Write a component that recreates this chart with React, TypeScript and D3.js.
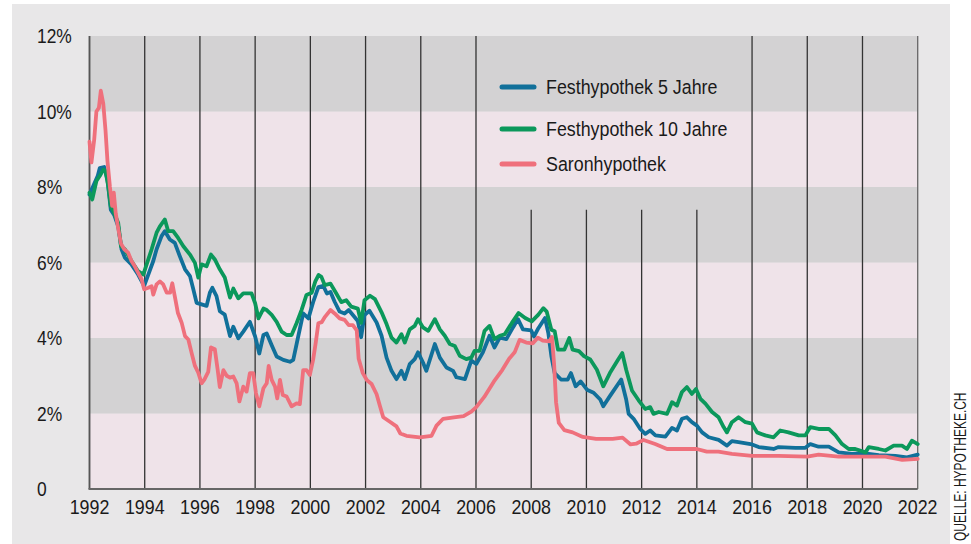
import * as d3 from 'd3';
import React from 'react';

// values (year, percent)
const festhypothek5: [number, number][] = [
  [1992.0, 7.8], [1992.3, 8.3], [1992.37, 8.5], [1992.53, 8.53], [1992.65, 8.2], [1992.77, 7.4], [1992.9, 7.25],
  [1993.04, 6.96], [1993.16, 6.35], [1993.28, 6.13], [1993.52, 5.95], [1993.76, 5.68], [1993.98, 5.38],
  [1994.13, 5.68], [1994.31, 6.04], [1994.43, 6.35], [1994.61, 6.7], [1994.73, 6.83], [1994.91, 6.61],
  [1995.09, 6.52], [1995.27, 6.17], [1995.46, 5.82], [1995.64, 5.64], [1995.76, 5.29], [1995.88, 4.93],
  [1996.06, 4.89], [1996.24, 4.85], [1996.36, 5.2], [1996.45, 5.33], [1996.6, 5.11], [1996.72, 4.71], [1996.9, 4.62],
  [1997.09, 4.05], [1997.21, 4.3], [1997.39, 3.99], [1997.57, 4.17], [1997.81, 4.43],
  [1998.0, 4.04], [1998.15, 3.59], [1998.3, 4.08], [1998.42, 4.12], [1998.6, 3.81], [1998.78, 3.51],
  [1999.02, 3.42], [1999.26, 3.37], [1999.38, 3.42], [1999.56, 4.04], [1999.74, 4.65], [1999.93, 4.52],
  [2000.1, 4.95], [2000.29, 5.35], [2000.47, 5.38], [2000.6, 5.18], [2000.73, 5.22], [2000.88, 4.96],
  [2001.06, 4.7], [2001.24, 4.65], [2001.39, 4.74], [2001.54, 4.61], [2001.72, 4.45], [2001.84, 4.02], [2001.96, 4.61],
  [2002.14, 4.72], [2002.4, 4.41], [2002.58, 4.06], [2002.76, 3.48], [2002.94, 3.13],
  [2003.12, 2.91], [2003.3, 3.13], [2003.42, 2.91], [2003.6, 3.31], [2003.78, 3.44], [2003.9, 3.62],
  [2004.08, 3.35], [2004.2, 3.13], [2004.51, 3.84], [2004.69, 3.48], [2004.93, 3.22],
  [2005.17, 3.13], [2005.29, 2.96], [2005.6, 2.91], [2005.83, 3.4],
  [2006.01, 3.31], [2006.25, 3.62], [2006.49, 4.06], [2006.67, 3.75], [2006.86, 4.01],
  [2007.1, 3.97], [2007.34, 4.28], [2007.52, 4.5], [2007.7, 4.23],
  [2008.0, 4.2], [2008.1, 4.04], [2008.26, 4.26], [2008.5, 4.53], [2008.62, 4.13], [2008.73, 3.52], [2008.85, 3.07],
  [2009.08, 2.9], [2009.32, 2.9], [2009.44, 3.07], [2009.61, 2.72], [2009.79, 2.85],
  [2010.02, 2.63], [2010.26, 2.55], [2010.5, 2.37], [2010.61, 2.19], [2010.85, 2.46],
  [2011.26, 2.9], [2011.44, 2.37], [2011.53, 1.99], [2011.71, 1.86], [2011.95, 1.59],
  [2012.13, 1.46], [2012.31, 1.55], [2012.5, 1.42], [2012.86, 1.39],
  [2013.1, 1.62], [2013.28, 1.55], [2013.46, 1.86], [2013.64, 1.9], [2013.82, 1.77],
  [2014.0, 1.68], [2014.19, 1.5], [2014.43, 1.37], [2014.79, 1.3],
  [2015.09, 1.15], [2015.27, 1.27], [2015.51, 1.24],
  [2016.0, 1.18], [2016.24, 1.11], [2016.78, 1.06], [2016.96, 1.11],
  [2017.57, 1.09], [2017.93, 1.09], [2018.11, 1.19], [2018.41, 1.12], [2018.78, 1.12],
  [2019.14, 0.97], [2019.62, 0.93], [2020.0, 0.95], [2020.59, 0.9],
  [2021.19, 0.88], [2021.61, 0.84], [2022.0, 0.91],
];

const festhypothek10: [number, number][] = [
  [1992.0, 7.85], [1992.1, 7.67], [1992.25, 8.16], [1992.37, 8.29], [1992.5, 8.46], [1992.58, 8.42], [1992.68, 8.02],
  [1992.77, 7.49], [1992.9, 7.3], [1993.04, 7.05], [1993.14, 6.43], [1993.28, 6.35], [1993.52, 6.04], [1993.76, 5.77],
  [1993.95, 5.68], [1994.07, 5.95], [1994.25, 6.35], [1994.43, 6.79], [1994.55, 6.96], [1994.73, 7.14], [1994.85, 6.83],
  [1995.03, 6.83], [1995.21, 6.65], [1995.4, 6.43], [1995.64, 6.21], [1995.82, 5.99], [1995.94, 5.6],
  [1996.06, 5.95], [1996.24, 5.9], [1996.4, 6.21], [1996.54, 6.08], [1996.72, 5.82], [1996.9, 5.6],
  [1997.09, 5.07], [1997.21, 5.31], [1997.39, 5.05], [1997.57, 5.18], [1997.87, 5.18],
  [1998.0, 4.92], [1998.12, 4.52], [1998.3, 4.78], [1998.42, 4.74], [1998.6, 4.61], [1998.78, 4.43], [1998.96, 4.17],
  [1999.14, 4.08], [1999.32, 4.08], [1999.5, 4.39], [1999.68, 4.74], [1999.86, 5.14],
  [2000.05, 5.2], [2000.18, 5.5], [2000.3, 5.67], [2000.4, 5.62], [2000.52, 5.4], [2000.73, 5.44], [2000.94, 5.18],
  [2001.12, 4.95], [2001.3, 5.0], [2001.48, 4.83], [2001.72, 4.78], [2001.84, 4.4], [2001.96, 5.0],
  [2002.16, 5.12], [2002.34, 5.03], [2002.58, 4.68], [2002.76, 4.37], [2002.94, 4.01],
  [2003.12, 3.88], [2003.3, 4.1], [2003.42, 3.88], [2003.6, 4.23], [2003.78, 4.32], [2003.9, 4.5],
  [2004.08, 4.28], [2004.27, 4.19], [2004.51, 4.5], [2004.69, 4.23], [2004.87, 4.06],
  [2005.05, 3.84], [2005.23, 3.79], [2005.41, 3.53], [2005.65, 3.44], [2005.83, 3.48], [2005.95, 3.66],
  [2006.13, 3.66], [2006.31, 4.19], [2006.49, 4.32], [2006.67, 3.97], [2006.86, 4.06],
  [2007.04, 4.1], [2007.3, 4.4], [2007.54, 4.66], [2007.78, 4.53],
  [2008.02, 4.44], [2008.26, 4.62], [2008.44, 4.79], [2008.56, 4.7], [2008.73, 4.22], [2008.85, 4.18], [2008.97, 3.69],
  [2009.2, 3.69], [2009.38, 4.0], [2009.5, 3.69], [2009.73, 3.65], [2009.91, 3.52],
  [2010.14, 3.43], [2010.38, 3.16], [2010.61, 2.72], [2010.85, 3.07],
  [2011.15, 3.43], [2011.3, 3.6], [2011.44, 3.16], [2011.65, 2.61], [2011.89, 2.35],
  [2012.13, 2.12], [2012.31, 2.17], [2012.43, 1.99], [2012.62, 2.04], [2012.92, 1.99],
  [2013.1, 2.3], [2013.28, 2.21], [2013.46, 2.57], [2013.64, 2.7], [2013.82, 2.52], [2013.97, 2.65],
  [2014.13, 2.39], [2014.31, 2.26], [2014.55, 2.04], [2014.79, 1.9], [2014.97, 1.64],
  [2015.09, 1.5], [2015.27, 1.77], [2015.51, 1.9], [2015.76, 1.77],
  [2016.0, 1.73], [2016.18, 1.5], [2016.48, 1.42], [2016.78, 1.37],
  [2017.02, 1.55], [2017.32, 1.5], [2017.69, 1.42], [2017.93, 1.42],
  [2018.11, 1.64], [2018.41, 1.59], [2018.78, 1.59], [2019.02, 1.42], [2019.26, 1.19], [2019.5, 1.06], [2019.74, 1.06],
  [2020.11, 0.97], [2020.23, 1.11], [2020.59, 1.06], [2020.83, 1.02],
  [2021.13, 1.15], [2021.43, 1.15], [2021.61, 1.06], [2021.79, 1.28], [2022.0, 1.19],
];

const saron: [number, number][] = [
  [1992.0, 9.2], [1992.07, 8.65], [1992.17, 9.25], [1992.25, 10.0], [1992.34, 10.1], [1992.41, 10.55], [1992.5, 10.2],
  [1992.58, 9.5], [1992.65, 8.7], [1992.74, 8.0], [1992.82, 7.5], [1992.88, 7.85], [1992.95, 7.3],
  [1993.04, 6.9], [1993.14, 6.5], [1993.26, 6.35], [1993.4, 6.26], [1993.52, 6.04], [1993.64, 5.9], [1993.76, 5.73],
  [1993.89, 5.55], [1993.98, 5.29], [1994.13, 5.33], [1994.25, 5.37], [1994.31, 5.15], [1994.43, 5.42], [1994.55, 5.5],
  [1994.67, 5.42], [1994.8, 5.2], [1994.92, 5.2], [1995.0, 5.45], [1995.09, 5.1], [1995.2, 4.67], [1995.34, 4.4],
  [1995.46, 4.05], [1995.58, 3.96], [1995.7, 3.6], [1995.82, 3.26], [1995.94, 3.08],
  [1996.06, 2.8], [1996.16, 2.9], [1996.3, 3.1], [1996.4, 3.75], [1996.54, 3.7], [1996.64, 3.17], [1996.72, 2.7],
  [1996.85, 3.15], [1996.97, 3.0], [1997.09, 2.95], [1997.21, 2.98], [1997.33, 2.8], [1997.43, 2.32], [1997.57, 2.71],
  [1997.69, 2.58], [1997.81, 3.07], [1997.93, 3.07], [1998.03, 2.54], [1998.15, 2.19], [1998.3, 2.67], [1998.42, 2.8],
  [1998.49, 3.26], [1998.6, 2.89], [1998.72, 2.71], [1998.8, 2.4], [1998.9, 2.89], [1999.0, 2.49], [1999.14, 2.45],
  [1999.32, 2.19], [1999.5, 2.27], [1999.62, 2.25], [1999.74, 3.15], [1999.86, 3.15], [1999.98, 3.02],
  [2000.1, 3.42], [2000.2, 3.9], [2000.29, 4.39], [2000.41, 4.42], [2000.53, 4.56], [2000.73, 4.74], [2000.88, 4.65],
  [2001.06, 4.52], [2001.24, 4.48], [2001.39, 4.34], [2001.54, 4.34], [2001.68, 4.2], [2001.75, 3.45], [2001.9, 3.07],
  [2002.05, 2.88], [2002.22, 2.78], [2002.4, 2.51], [2002.52, 2.2], [2002.64, 1.9], [2002.88, 1.78],
  [2003.12, 1.66], [2003.26, 1.47], [2003.48, 1.41], [2003.96, 1.37], [2004.39, 1.41], [2004.57, 1.68], [2004.81, 1.86],
  [2005.2, 1.9], [2005.55, 1.93], [2005.83, 2.05], [2006.01, 2.17], [2006.3, 2.44], [2006.65, 2.85], [2006.95, 3.15],
  [2007.2, 3.45], [2007.4, 3.62], [2007.58, 3.95], [2007.82, 3.88], [2008.06, 3.86], [2008.24, 4.01], [2008.42, 3.93],
  [2008.66, 3.91], [2008.75, 4.03], [2008.83, 3.3], [2008.9, 2.3], [2009.0, 1.75], [2009.2, 1.56], [2009.5, 1.5],
  [2009.87, 1.38], [2010.35, 1.33], [2010.95, 1.33], [2011.31, 1.36], [2011.6, 1.18], [2011.8, 1.2], [2012.07, 1.3],
  [2012.49, 1.19], [2012.92, 1.06], [2014.0, 1.06], [2014.36, 0.99], [2014.78, 0.99], [2015.27, 0.93], [2016.0, 0.88],
  [2016.96, 0.88], [2018.0, 0.86], [2018.41, 0.91], [2019.13, 0.86], [2020.0, 0.86], [2020.83, 0.86], [2021.44, 0.77],
  [2022.0, 0.8],
];

const seriesNames = ['Festhypothek 5 Jahre', 'Festhypothek 10 Jahre', 'Saronhypothek'];
const seriesColors = ['#11709a', '#0b985b', '#ef707c'];
const xTicks = d3.range(1992, 2023, 2);
const yTicks = [0, 2, 4, 6, 8, 10, 12];
const yTickLabels = ['0', '2%', '4%', '6%', '8%', '10%', '12%'];
const legendYears = [2008, 2010, 2012, 2014]; // grid lines stop below legend
const source = 'QUELLE: HYPOTHEKE.CH';

const font = "'Liberation Sans', Arial, sans-serif";
const narrow = 0.87; // no condensed font installed, squeeze Liberation Sans

const App = () => {
  const width = 971, height = 544;
  const x = d3.scaleLinear().domain([1992, 2022]).range([89.5, 917.7]);
  const y = d3.scaleLinear().domain([0, 12]).range([489, 36]);
  const line = d3.line<[number, number]>().x(d => x(d[0])).y(d => y(d[1]));
  const data = [festhypothek5, festhypothek10, saron];

  return (
    <svg width={width} height={height} style={{ position: 'absolute', left: 0, top: 0, display: 'block' }}
      fontFamily={font}>
      <rect x={0} y={0} width={width} height={height} fill="#fff" />
      <rect x={12} y={4} width={938} height={height} fill="#e8e7e8" />
      {/* bands */}
      {yTicks.slice(0, -1).map((t, i) => (
        <rect key={t} x={x(1992)} y={y(t + 2)} width={x(2022) - x(1992)} height={y(t) - y(t + 2)}
          fill={i % 2 === 0 ? '#efe3e9' : '#d3d2d3'} />
      ))}
      {/* vertical grid */}
      {xTicks.map(t => (
        <line key={t} x1={x(t)} x2={x(t)} y1={y(0)} y2={legendYears.includes(t) ? y(7.4) : y(12)}
          stroke={t === 2022 ? '#666' : '#333'} strokeWidth={1.3} />
      ))}
      {/* axes */}
      <line x1={x(1992)} x2={x(1992)} y1={y(0)} y2={y(12)} stroke="#555" strokeWidth={1.6} />
      <line x1={x(1992) - 1} x2={x(2022)} y1={y(0)} y2={y(0)} stroke="#666" strokeWidth={2} />
      {yTicks.map((t, i) => (
        <text key={t} transform={`translate(37,${y(t)}) scale(${narrow},1)`} dy="0.36em" fontSize={20}
          fill="#1a1a1a">{yTickLabels[i]}</text>
      ))}
      {xTicks.map(t => (
        <text key={t} transform={`translate(${x(t)},514) scale(${narrow},1)`} textAnchor="middle" fontSize={20.5}
          fill="#1a1a1a">{t}</text>
      ))}
      {/* series */}
      {data.map((d, i) => (
        <path key={i} d={line(d) || ''} fill="none" stroke={seriesColors[i]} strokeWidth={3.8}
          strokeLinejoin="round" strokeLinecap="round" />
      ))}
      {/* legend */}
      {seriesNames.map((n, i) => {
        const ly = [87, 129, 164][i];
        return (
          <g key={n}>
            <line x1={502} x2={534} y1={ly} y2={ly} stroke={seriesColors[i]} strokeWidth={5} strokeLinecap="round" />
            <text transform={`translate(546,${ly}) scale(${narrow},1)`} dy="0.36em" fontSize={20.5}
              fill="#1a1a1a">{n}</text>
          </g>
        );
      })}
      <text transform="translate(966,541) rotate(-90) scale(0.75,1)" fontSize={16} fill="#1a1a1a">{source}</text>
    </svg>
  );
};

export default App;
